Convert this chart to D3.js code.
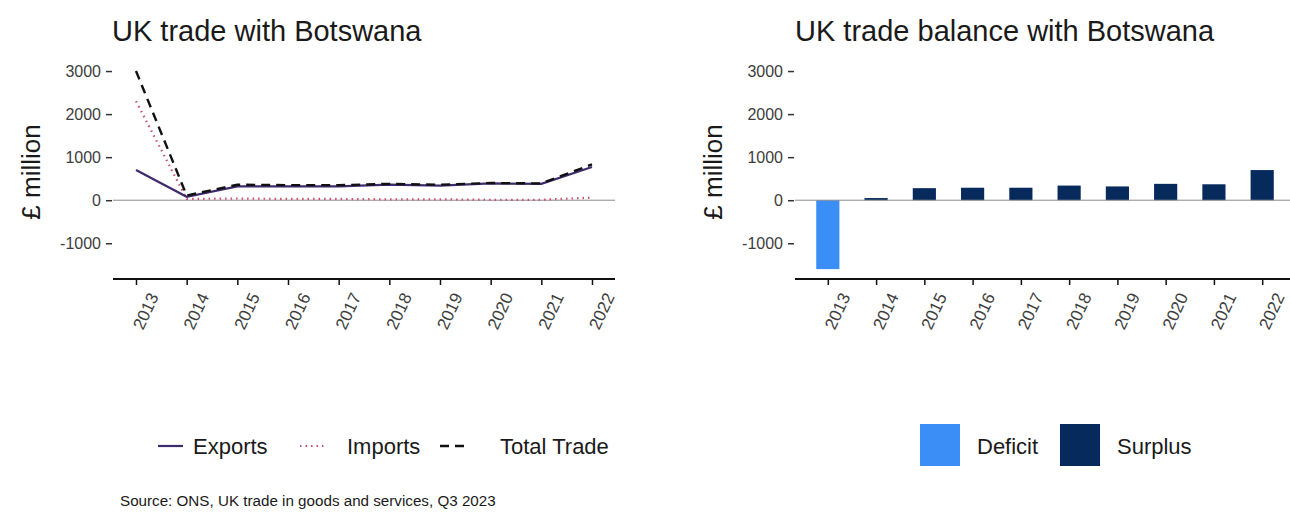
<!DOCTYPE html>
<html>
<head>
<meta charset="utf-8">
<script src="https://cdn.jsdelivr.net/npm/d3@7"></script>
<style>
  html, body { margin: 0; padding: 0; background: #fff; }
  svg text { font-family: "Liberation Sans", Arial, sans-serif; }
</style>
</head>
<body>
<svg id="chart" width="1290" height="512"></svg>
<script>
// ---- data ----
const years = ["2013","2014","2015","2016","2017","2018","2019","2020","2021","2022"];
const exportsVals = [700, 80, 320, 320, 320, 360, 340, 390, 380, 770];
const importsVals = [2300, 30, 40, 30, 30, 20, 20, 10, 10, 60];
const totalVals   = [3000, 110, 360, 350, 350, 380, 360, 400, 390, 830];
const balanceVals = [-1600, 50, 280, 290, 290, 340, 320, 380, 370, 700];
const yTicks = [-1000, 0, 1000, 2000, 3000];
const seriesNames = ["Exports", "Imports", "Total Trade"];
const balanceNames = ["Deficit", "Surplus"];

const seriesStyle = {
  "Exports":     { color: "#3f2b6e", dash: null,  width: 2.2 },
  "Imports":     { color: "#c9506f", dash: "1.5,4", width: 2.2 },
  "Total Trade": { color: "#111111", dash: "9,6", width: 2.4 }
};
const balanceColor = { "Deficit": "#3a8ef6", "Surplus": "#062a5c" };

const svg = d3.select("#chart");

// shared y scale
const y = d3.scaleLinear().domain([-1830, 3280]).range([279, 59]);

function drawYAxis(g, xPos) {
  const ax = d3.axisLeft(y).tickValues(yTicks).tickSize(6).tickPadding(5).tickFormat(d => String(d));
  const a = g.append("g").attr("transform", `translate(${xPos},0)`).call(ax);
  a.select(".domain").remove();
  a.selectAll(".tick line").attr("stroke", "#333").attr("stroke-width", 1.5);
  a.selectAll(".tick text").attr("fill", "#3d3d3d").style("font-size", "16px");
}

function drawXAxis(g, scale, x0, x1, offset) {
  g.append("line").attr("x1", x0).attr("x2", x1).attr("y1", 279).attr("y2", 279)
    .attr("stroke", "#111").attr("stroke-width", 2.2);
  const ax = d3.axisBottom(scale).tickSize(6).tickPadding(0);
  const a = g.append("g").attr("transform", "translate(0,279)").call(ax);
  a.select(".domain").remove();
  a.selectAll(".tick line").attr("stroke", "#111").attr("stroke-width", 1.5);
  a.selectAll(".tick text")
    .attr("fill", "#3d3d3d").style("font-size", "17px")
    .attr("text-anchor", "end")
    .attr("dy", "0.35em")
    .attr("y", 0)
    .attr("transform", `translate(${offset},15) rotate(-65)`);
}

// ---------------- Left panel ----------------
const left = svg.append("g");
const xL = d3.scalePoint().domain(years).range([136, 592]);

left.append("text").attr("x", 112).attr("y", 41).text("UK trade with Botswana")
  .style("font-size", "29px").attr("fill", "#1a1a1a");

left.append("text").attr("transform", `translate(40,172) rotate(-90)`)
  .attr("text-anchor", "middle").text("£ million").style("font-size", "26px").attr("fill", "#1a1a1a");

drawYAxis(left, 112);

left.append("line").attr("x1", 113).attr("x2", 615).attr("y1", y(0)).attr("y2", y(0))
  .attr("stroke", "#8c8c8c").attr("stroke-width", 1);

const seriesData = {
  "Exports": exportsVals,
  "Imports": importsVals,
  "Total Trade": totalVals
};
const line = d3.line().x((d, i) => xL(years[i])).y(d => y(d));
["Imports", "Exports", "Total Trade"].forEach(name => {
  const st = seriesStyle[name];
  left.append("path").datum(seriesData[name])
    .attr("d", line).attr("fill", "none")
    .attr("stroke", st.color).attr("stroke-width", st.width)
    .attr("stroke-dasharray", st.dash);
});

drawXAxis(left, xL, 113, 615, 17);

// left legend
const legL = [
  { name: "Exports", lx: 158, tx: 193 },
  { name: "Imports", lx: 300, tx: 347 },
  { name: "Total Trade", lx: 440, tx: 500 }
];
legL.forEach(d => {
  const st = seriesStyle[d.name];
  left.append("line").attr("x1", d.lx).attr("x2", d.lx + 25).attr("y1", 446).attr("y2", 446)
    .attr("stroke", st.color).attr("stroke-width", st.width).attr("stroke-dasharray", st.dash);
  left.append("text").attr("x", d.tx).attr("y", 446).attr("dy", "0.35em").text(d.name)
    .style("font-size", "22px").attr("fill", "#1a1a1a");
});

// source
svg.append("text").attr("x", 120).attr("y", 506).text("Source: ONS, UK trade in goods and services, Q3 2023")
  .style("font-size", "15.2px").attr("fill", "#1a1a1a");

// ---------------- Right panel ----------------
const right = svg.append("g");
const xR = d3.scaleBand().domain(years).range([795, 1295]).paddingInner(0.52).paddingOuter(0.44);

right.append("text").attr("x", 795).attr("y", 41).text("UK trade balance with Botswana")
  .style("font-size", "29px").attr("fill", "#1a1a1a");

right.append("text").attr("transform", `translate(722,172) rotate(-90)`)
  .attr("text-anchor", "middle").text("£ million").style("font-size", "26px").attr("fill", "#1a1a1a");

drawYAxis(right, 794);

right.selectAll("rect.bar").data(balanceVals).enter().append("rect")
  .attr("class", "bar")
  .attr("x", (d, i) => xR(years[i]))
  .attr("width", xR.bandwidth())
  .attr("y", d => y(Math.max(0, d)))
  .attr("height", d => Math.abs(y(d) - y(0)))
  .attr("fill", d => d < 0 ? balanceColor["Deficit"] : balanceColor["Surplus"]);

right.append("line").attr("x1", 795).attr("x2", 1290).attr("y1", y(0)).attr("y2", y(0))
  .attr("stroke", "#8c8c8c").attr("stroke-width", 1);

const xRc = d3.scalePoint().domain(years).range([xR(years[0]) + xR.bandwidth()/2, xR(years[years.length-1]) + xR.bandwidth()/2]);
drawXAxis(right, xRc, 795, 1290, 17);

// right legend
const legR = [
  { name: "Deficit", rx: 920, tx: 977 },
  { name: "Surplus", rx: 1060, tx: 1117 }
];
legR.forEach(d => {
  right.append("rect").attr("x", d.rx).attr("y", 424).attr("width", 40).attr("height", 42)
    .attr("fill", balanceColor[d.name]);
  right.append("text").attr("x", d.tx).attr("y", 446).attr("dy", "0.35em").text(d.name)
    .style("font-size", "22px").attr("fill", "#1a1a1a");
});
</script>
</body>
</html>
